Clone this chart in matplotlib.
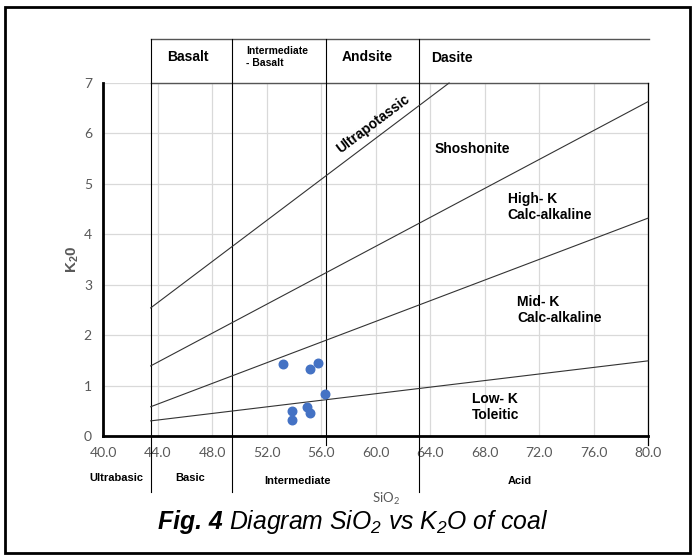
import matplotlib
matplotlib.use("Agg")
import matplotlib.pyplot as plt
from matplotlib.patches import Rectangle

plt.rcParams['font.family'] = ['Liberation Sans', 'DejaVu Sans']
plt.rcParams['mathtext.default'] = 'regular'

# sample analyses (SiO2 wt%, K2O wt%)
sio2 = [53.2, 55.2, 55.8, 56.3, 55.0, 55.2, 53.9, 53.9]
k2o = [1.42, 1.33, 1.44, 0.83, 0.58, 0.46, 0.49, 0.31]

# series boundaries of the K2O-SiO2 diagram, as (x0, y0, x1, y1)
ultrapotassic = (43.5, 2.54, 65.4, 7.0)
shoshonite = (43.5, 1.39, 80.0, 6.63)
high_k = (43.5, 0.58, 80.0, 4.32)
low_k = (43.5, 0.30, 80.0, 1.49)

# rock-type dividers along SiO2
dividers = [43.5, 49.5, 56.4, 63.2]
divider_bottom = [-1.12, -1.12, -0.18, -1.12]

rock_top = ['Basalt', 'Intermediate\n- Basalt', 'Andsite', 'Dasite']
rock_bottom = ['Ultrabasic', 'Basic', 'Intermediate', 'Acid']

xticks = [40, 44, 48, 52, 56, 60, 64, 68, 72, 76, 80]
yticks = [0, 1, 2, 3, 4, 5, 6, 7]

fig = plt.figure(figsize=(6.96, 5.59), dpi=100)
ax = fig.add_axes([103 / 696, 1 - 436 / 559, 545 / 696, 353 / 559])

ax.set_xlim(40, 80)
ax.set_ylim(0, 7)
ax.set_xticks(xticks)
ax.set_yticks(yticks)
ax.set_xticklabels([f'{v:.1f}' for v in xticks])
ax.tick_params(length=0, labelcolor='#595959', labelsize=10, pad=8)
for lab in ax.get_xticklabels() + ax.get_yticklabels():
    lab.set_family('Lato')
ax.grid(color='#d9d9d9', linewidth=0.9)
ax.set_axisbelow(True)
for side in ['top', 'right']:
    ax.spines[side].set_visible(False)
for side in ['left', 'bottom']:
    ax.spines[side].set_linewidth(2)
    ax.spines[side].set_color('black')

# diagram frame
ax.plot([dividers[0], 80.0], [7, 7], color='#555555', lw=1, clip_on=False)
ax.plot([80.0, 80.0], [-0.18, 7], color='black', lw=0.9, clip_on=False)
ax.plot([dividers[0], 80.1], [7.88, 7.88], color='#555555', lw=1, clip_on=False)
for x, yb in zip(dividers, divider_bottom):
    ax.plot([x, x], [yb, 7.88], color='black', lw=0.8, clip_on=False)

for x0, y0, x1, y1 in [ultrapotassic, shoshonite, high_k, low_k]:
    ax.plot([x0, x1], [y0, y1], color='#333333', lw=0.8, clip_on=False)

ax.scatter(sio2, k2o, s=38, color='#4472c4', zorder=5)

# rock names above and below
ax.text(46.2, 7.52, rock_top[0], fontsize=10, fontweight='bold', ha='center', va='center')
ax.text(52.8, 7.52, rock_top[1], fontsize=7.5, fontweight='bold', ha='center', va='center',
        multialignment='left', linespacing=1.2)
ax.text(59.4, 7.52, rock_top[2], fontsize=10, fontweight='bold', ha='center', va='center')
ax.text(64.1, 7.50, rock_top[3], fontsize=10, fontweight='bold', ha='left', va='center')

ax.text(41.0, -0.83, rock_bottom[0], fontsize=8, fontweight='bold', ha='center', va='center')
ax.text(46.4, -0.83, rock_bottom[1], fontsize=8, fontweight='bold', ha='center', va='center')
ax.text(54.3, -0.89, rock_bottom[2], fontsize=8, fontweight='bold', ha='center', va='center')
ax.text(70.6, -0.89, rock_bottom[3], fontsize=8, fontweight='bold', ha='center', va='center')

# series fields
ax.text(59.8, 6.18, 'Ultrapotassic', fontsize=10, fontweight='bold', rotation=37,
        ha='center', va='center', rotation_mode='anchor')
ax.text(67.1, 5.69, 'Shoshonite', fontsize=10, fontweight='bold', ha='center', va='center')
ax.text(69.7, 4.54, 'High- K\nCalc-alkaline', fontsize=10, fontweight='bold',
        ha='left', va='center', linespacing=1.25)
ax.text(70.4, 2.50, 'Mid- K\nCalc-alkaline', fontsize=10, fontweight='bold',
        ha='left', va='center', linespacing=1.25)
ax.text(67.1, 0.58, 'Low- K\nToleitic', fontsize=10, fontweight='bold',
        ha='left', va='center', linespacing=1.2)

ax.set_ylabel('K$_2$0', fontsize=11, fontweight='bold', color='#595959', labelpad=2)
fig.text(386 / 696, 1 - 499 / 559, 'SiO$_2$', fontsize=9.5, color='#595959',
         ha='center', va='center', family='Lato')

# caption, sized to span the figure's lower centre
fig.canvas.draw()
renderer = fig.canvas.get_renderer()
cap_y = 1 - 522 / 559
cap_size = 14
t1 = fig.text(0, cap_y, 'Fig. 4 ', fontsize=cap_size, fontweight='bold', fontstyle='italic',
              va='center')
t2 = fig.text(0, cap_y, 'Diagram SiO$_2$ vs K$_2$O of coal', fontsize=cap_size,
              fontstyle='italic', va='center')
w = t1.get_window_extent(renderer).width + t2.get_window_extent(renderer).width
cap_size = cap_size * 392 / w
t1.set_fontsize(cap_size)
t2.set_fontsize(cap_size)
w1 = t1.get_window_extent(renderer).width
w2 = t2.get_window_extent(renderer).width
x0 = 158
t1.set_x(x0 / 696)
t2.set_x((x0 + w1) / 696)

fig.add_artist(Rectangle((5 / 696, 1 - 553 / 559), 685 / 696, 546 / 559,
                         transform=fig.transFigure, fill=False, lw=2, color='black'))

fig.savefig('out.png', dpi=100)
